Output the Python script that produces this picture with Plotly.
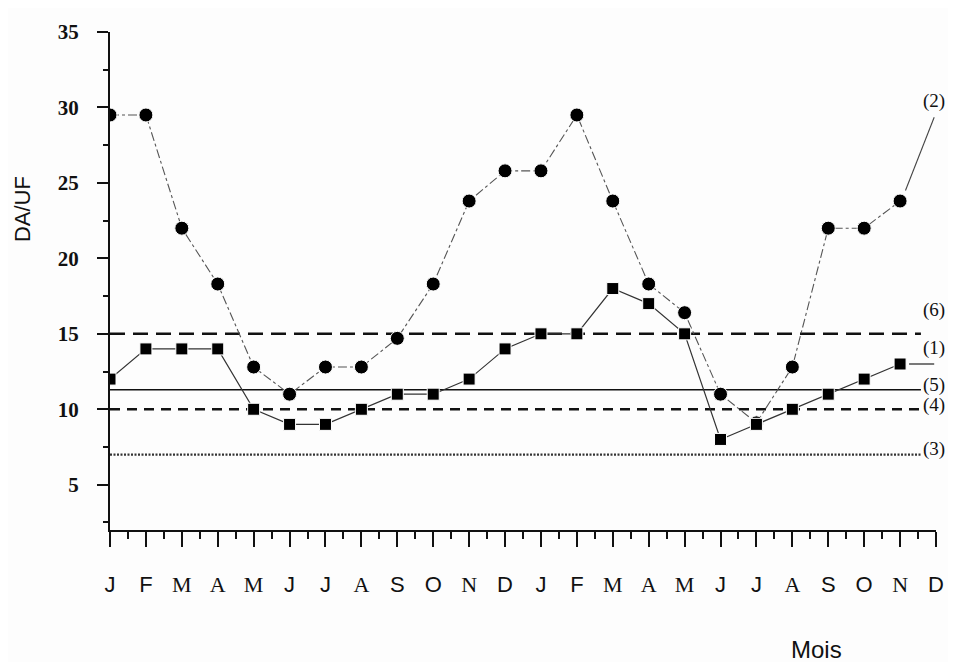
import plotly.graph_objects as go

months = ["J", "F", "M", "A", "M", "J", "J", "A", "S", "O", "N", "D",
          "J", "F", "M", "A", "M", "J", "J", "A", "S", "O", "N", "D"]
x_idx = list(range(len(months)))

# series (2): circles
series2 = [29.5, 29.5, 22.0, 18.3, 12.8, 11.0, 12.8, 12.8, 14.7, 18.3, 23.8, 25.8,
           25.8, 29.5, 23.8, 18.3, 16.4, 11.0, 9.1, 12.8, 22.0, 22.0, 23.8]
# series (1): squares
series1 = [12, 14, 14, 14, 10, 9, 9, 10, 11, 11, 12, 14,
           15, 15, 18, 17, 15, 8, 9, 10, 11, 12, 13]

# reference levels
ref_labels = ["(6)", "(5)", "(4)", "(3)"]
ref_values = [15.0, 11.3, 10.0, 7.0]
ref_label_y = [16.6, 11.6, 10.3, 7.4]

label2_y = 30.45
label1_y = 14.05

line_end = 22.58

# the scanned original mixes serif and sans-serif letters on the month axis
serif_letters = {"M", "A", "N"}
tick_text = [
    f'<span style="font-family:Liberation Serif;fill:#111111;color:#111111">{m}</span>'
    if m in serif_letters else m
    for m in months
]

fig = go.Figure()

# reference lines
ref_styles = [
    dict(color="#111", width=2.6, dash="15px,8px"),
    dict(color="#111", width=1.5, dash="solid"),
    dict(color="#111", width=2.6, dash="10px,7px"),
    dict(color="#333", width=2.2, dash="2px,1.5px"),
]
for v, st in zip(ref_values, ref_styles):
    fig.add_trace(go.Scatter(x=[0, line_end], y=[v, v], mode="lines",
                             line=st, hoverinfo="skip", showlegend=False))

# series 2 (circles)
fig.add_trace(go.Scatter(
    x=x_idx[:len(series2)], y=series2, mode="lines+markers",
    line=dict(color="#555", width=1.1, dash="dashdot"),
    marker=dict(symbol="circle", size=14, color="#000",
                line=dict(color="#fff", width=1)),
    showlegend=False, hoverinfo="skip"))

# series 1 (squares)
fig.add_trace(go.Scatter(
    x=x_idx[:len(series1)], y=series1, mode="lines+markers",
    line=dict(color="#333", width=1.2),
    marker=dict(symbol="square", size=12, color="#000",
                line=dict(color="#fff", width=1)),
    showlegend=False, hoverinfo="skip"))

# leader lines to labels
n2 = len(series2) - 1
fig.add_shape(type="line", x0=n2 + 0.15, y0=series2[-1] + 0.7, x1=n2 + 0.95, y1=label2_y - 1.1,
              xref="x", yref="y", line=dict(color="#444", width=1.1))
n1 = len(series1) - 1
fig.add_shape(type="line", x0=n1 + 0.25, y0=series1[-1], x1=n1 + 0.95, y1=series1[-1],
              xref="x", yref="y", line=dict(color="#222", width=1.2))

lab_font = dict(family="Liberation Serif", size=19, color="#111")
fig.add_annotation(x=line_end, y=label2_y, text="(2)", showarrow=False,
                   xanchor="left", yanchor="middle", font=lab_font)
fig.add_annotation(x=line_end, y=label1_y, text="(1)", showarrow=False,
                   xanchor="left", yanchor="middle", font=lab_font)
for t, yv in zip(ref_labels, ref_label_y):
    fig.add_annotation(x=line_end, y=yv, text=t, showarrow=False,
                       xanchor="left", yanchor="middle", font=lab_font)

# axis titles as annotations
fig.add_annotation(xref="paper", yref="paper", x=-0.105, y=0.645, text="DA/UF",
                   textangle=-90, showarrow=False, xanchor="center", yanchor="middle",
                   font=dict(family="Liberation Sans", size=22, color="#111"))
fig.add_annotation(xref="paper", yref="paper", x=0.855, y=-0.2395, text="Mois",
                   showarrow=False, xanchor="center", yanchor="middle",
                   font=dict(family="Liberation Sans", size=24, color="#111"))

fig.update_xaxes(
    range=[0, 23], tickvals=x_idx, ticktext=tick_text,
    showline=True, linecolor="#111", linewidth=2,
    ticks="outside", ticklen=15, tickwidth=2, tickcolor="#111",
    minor=dict(ticks="outside", ticklen=7, tickwidth=2, tickcolor="#111",
               dtick=0.5, tick0=0.5),
    showgrid=False, zeroline=False,
    ticklabelstandoff=19,
    tickfont=dict(family="Liberation Sans", size=22, color="#111"),
)
fig.update_yaxes(
    range=[2, 35], tick0=0, dtick=5,
    showline=True, linecolor="#111", linewidth=2,
    ticks="outside", ticklen=11, tickwidth=2, tickcolor="#111",
    minor=dict(ticks="outside", ticklen=5, tickwidth=2, tickcolor="#111",
               dtick=2.5, tick0=2.5),
    showgrid=False, zeroline=False,
    ticklabelstandoff=14,
    tickfont=dict(family="Liberation Serif", size=21, color="#111", weight="bold"),
)

# page body has an 8px margin, so the figure is sized to fit the window
fig.update_layout(
    width=948, height=654,
    margin=dict(l=102, r=19, t=21, b=132),
    paper_bgcolor="#fdfdfd", plot_bgcolor="#fdfdfd",
)

fig.write_html("out.html")
